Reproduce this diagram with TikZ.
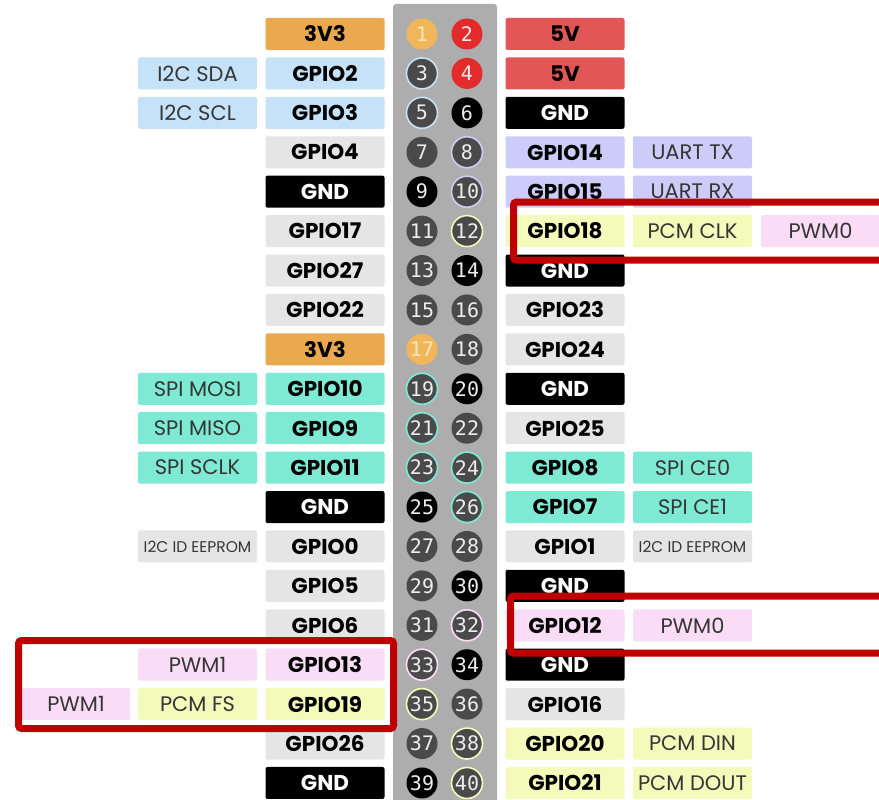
\documentclass[tikz,border=0pt]{standalone}
\usepackage{fontspec}
\setmainfont{Poppins}
\newfontfamily\pinfont{DejaVu Sans Mono}
\definecolor{cOrange}{HTML}{EAA94F}
\definecolor{cPinOrange}{HTML}{F2B65A}
\definecolor{cPinOrangeTxt}{HTML}{FCE6BC}
\definecolor{cRed}{HTML}{E25656}
\definecolor{cPinRed}{HTML}{E32B2B}
\definecolor{cBlue}{HTML}{C6E2F8}
\definecolor{cLav}{HTML}{CDCBF8}
\definecolor{cGray}{HTML}{E5E5E5}
\definecolor{cTeal}{HTML}{7EEAD4}
\definecolor{cYellow}{HTML}{F4FAB9}
\definecolor{cPink}{HTML}{FADCF6}
\definecolor{cStrip}{HTML}{ADADAD}
\definecolor{cPin}{HTML}{4A4A4A}
\definecolor{cLabel}{HTML}{353535}
\definecolor{cFrame}{HTML}{C00000}
\definecolor{cPinWhite}{HTML}{EDEDED}
\tikzset{
  lbox/.style={rounded corners=2pt, minimum width=119pt, minimum height=32pt, inner sep=0pt, anchor=center},
  gpio/.style={lbox, font=\bfseries\fontsize{21.5}{21.5}\selectfont, text=black},
  func/.style={lbox, font=\fontsize{21}{21}\selectfont, text=cLabel},
  small/.style={lbox, font=\fontsize{15.5}{15.5}\selectfont, text=cLabel},
  gnd/.style={gpio, fill=black, text=white},
  pin/.style={circle, minimum size=31pt, inner sep=0pt, font=\pinfont\fontsize{20}{20}\selectfont, text=cPinWhite, line width=1.6pt},
  frame/.style={draw=cFrame, line width=7pt, rounded corners=3pt}
}
\newcommand\rowy[1]{{34+(#1-1)*39.42}}
\newcommand\bx[5]{\node[#4] (#1) at (#2,\rowy{#3}) {#5};}
\newcommand\pn[5]{\node[pin, fill=#4, #5] (p#1) at (#2,\rowy{#3}) {#1};}
\begin{document}
\begin{tikzpicture}[x=1pt,y=-1pt]
\useasboundingbox (0,0) rectangle (879,800);
\clip (0,0) rectangle (879,800);
\fill[white] (0,0) rectangle (879,800);
\fill[cStrip, rounded corners=3pt] (393,4) rectangle (497,815);
% columns: L1=76, L2=197.5, L3=325, R1=565, R2=692.5, R3=820.5
% left side
\bx{l1}{325}{1}{gpio, fill=cOrange}{3V3}
\bx{l2f}{197.5}{2}{func, fill=cBlue}{I2C SDA}
\bx{l2}{325}{2}{gpio, fill=cBlue}{GPIO2}
\bx{l3f}{197.5}{3}{func, fill=cBlue}{I2C SCL}
\bx{l3}{325}{3}{gpio, fill=cBlue}{GPIO3}
\bx{l4}{325}{4}{gpio, fill=cGray}{GPIO4}
\bx{l5}{325}{5}{gnd}{GND}
\bx{l6}{325}{6}{gpio, fill=cGray}{GPIO17}
\bx{l7}{325}{7}{gpio, fill=cGray}{GPIO27}
\bx{l8}{325}{8}{gpio, fill=cGray}{GPIO22}
\bx{l9}{325}{9}{gpio, fill=cOrange}{3V3}
\bx{l10f}{197.5}{10}{func, fill=cTeal}{SPI MOSI}
\bx{l10}{325}{10}{gpio, fill=cTeal}{GPIO10}
\bx{l11f}{197.5}{11}{func, fill=cTeal}{SPI MISO}
\bx{l11}{325}{11}{gpio, fill=cTeal}{GPIO9}
\bx{l12f}{197.5}{12}{func, fill=cTeal}{SPI SCLK}
\bx{l12}{325}{12}{gpio, fill=cTeal}{GPIO11}
\bx{l13}{325}{13}{gnd}{GND}
\bx{l14f}{197.5}{14}{small, fill=cGray}{I2C ID EEPROM}
\bx{l14}{325}{14}{gpio, fill=cGray}{GPIO0}
\bx{l15}{325}{15}{gpio, fill=cGray}{GPIO5}
\bx{l16}{325}{16}{gpio, fill=cGray}{GPIO6}
\bx{l17f}{197.5}{17}{func, fill=cPink}{PWM1}
\bx{l17}{325}{17}{gpio, fill=cPink}{GPIO13}
\bx{l18g}{76}{18}{func, fill=cPink, minimum width=108pt}{PWM1}
\bx{l18f}{197.5}{18}{func, fill=cYellow}{PCM FS}
\bx{l18}{325}{18}{gpio, fill=cYellow}{GPIO19}
\bx{l19}{325}{19}{gpio, fill=cGray}{GPIO26}
\bx{l20}{325}{20}{gnd}{GND}
% right side
\bx{r1}{565}{1}{gpio, fill=cRed}{5V}
\bx{r2}{565}{2}{gpio, fill=cRed}{5V}
\bx{r3}{565}{3}{gnd}{GND}
\bx{r4}{565}{4}{gpio, fill=cLav}{GPIO14}
\bx{r4f}{692.5}{4}{func, fill=cLav}{UART TX}
\bx{r5}{565}{5}{gpio, fill=cLav}{GPIO15}
\bx{r5f}{692.5}{5}{func, fill=cLav}{UART RX}
\bx{r6}{565}{6}{gpio, fill=cYellow}{GPIO18}
\bx{r6f}{692.5}{6}{func, fill=cYellow}{PCM CLK}
\bx{r6g}{820.5}{6}{func, fill=cPink}{PWM0}
\bx{r7}{565}{7}{gnd}{GND}
\bx{r8}{565}{8}{gpio, fill=cGray}{GPIO23}
\bx{r9}{565}{9}{gpio, fill=cGray}{GPIO24}
\bx{r10}{565}{10}{gnd}{GND}
\bx{r11}{565}{11}{gpio, fill=cGray}{GPIO25}
\bx{r12}{565}{12}{gpio, fill=cTeal}{GPIO8}
\bx{r12f}{692.5}{12}{func, fill=cTeal}{SPI CE0}
\bx{r13}{565}{13}{gpio, fill=cTeal}{GPIO7}
\bx{r13f}{692.5}{13}{func, fill=cTeal}{SPI CE1}
\bx{r14}{565}{14}{gpio, fill=cGray}{GPIO1}
\bx{r14f}{692.5}{14}{small, fill=cGray}{I2C ID EEPROM}
\bx{r15}{565}{15}{gnd}{GND}
\bx{r16}{565}{16}{gpio, fill=cPink}{GPIO12}
\bx{r16f}{692.5}{16}{func, fill=cPink}{PWM0}
\bx{r17}{565}{17}{gnd}{GND}
\bx{r18}{565}{18}{gpio, fill=cGray}{GPIO16}
\bx{r19}{565}{19}{gpio, fill=cYellow}{GPIO20}
\bx{r19f}{692.5}{19}{func, fill=cYellow}{PCM DIN}
\bx{r20}{565}{20}{gpio, fill=cYellow}{GPIO21}
\bx{r20f}{692.5}{20}{func, fill=cYellow}{PCM DOUT}
% pins (left x=422, right x=467)
\pn{1}{422}{1}{cPinOrange}{text=cPinOrangeTxt}
\pn{2}{467}{1}{cPinRed}{}
\pn{3}{422}{2}{cPin}{draw=cBlue}
\pn{4}{467}{2}{cPinRed}{}
\pn{5}{422}{3}{cPin}{draw=cBlue}
\pn{6}{467}{3}{black}{}
\pn{7}{422}{4}{cPin}{}
\pn{8}{467}{4}{cPin}{draw=cLav}
\pn{9}{422}{5}{black}{}
\pn{10}{467}{5}{cPin}{draw=cLav}
\pn{11}{422}{6}{cPin}{}
\pn{12}{467}{6}{cPin}{draw=cYellow}
\pn{13}{422}{7}{cPin}{}
\pn{14}{467}{7}{black}{}
\pn{15}{422}{8}{cPin}{}
\pn{16}{467}{8}{cPin}{}
\pn{17}{422}{9}{cPinOrange}{text=cPinOrangeTxt}
\pn{18}{467}{9}{cPin}{}
\pn{19}{422}{10}{cPin}{draw=cTeal}
\pn{20}{467}{10}{black}{}
\pn{21}{422}{11}{cPin}{draw=cTeal}
\pn{22}{467}{11}{cPin}{}
\pn{23}{422}{12}{cPin}{draw=cTeal}
\pn{24}{467}{12}{cPin}{draw=cTeal}
\pn{25}{422}{13}{black}{}
\pn{26}{467}{13}{cPin}{draw=cTeal}
\pn{27}{422}{14}{cPin}{}
\pn{28}{467}{14}{cPin}{}
\pn{29}{422}{15}{cPin}{}
\pn{30}{467}{15}{black}{}
\pn{31}{422}{16}{cPin}{}
\pn{32}{467}{16}{cPin}{draw=cPink}
\pn{33}{422}{17}{cPin}{draw=cPink}
\pn{34}{467}{17}{black}{}
\pn{35}{422}{18}{cPin}{draw=cYellow}
\pn{36}{467}{18}{cPin}{}
\pn{37}{422}{19}{cPin}{}
\pn{38}{467}{19}{cPin}{draw=cYellow}
\pn{39}{422}{20}{black}{}
\pn{40}{467}{20}{cPin}{draw=cYellow}
% highlight frames
\draw[frame] (513.5,202) rectangle (900,260);
\draw[frame] (510.5,596) rectangle (900,653);
\draw[frame] (18.5,640.5) rectangle (393.5,728.5);
\end{tikzpicture}
\end{document}
